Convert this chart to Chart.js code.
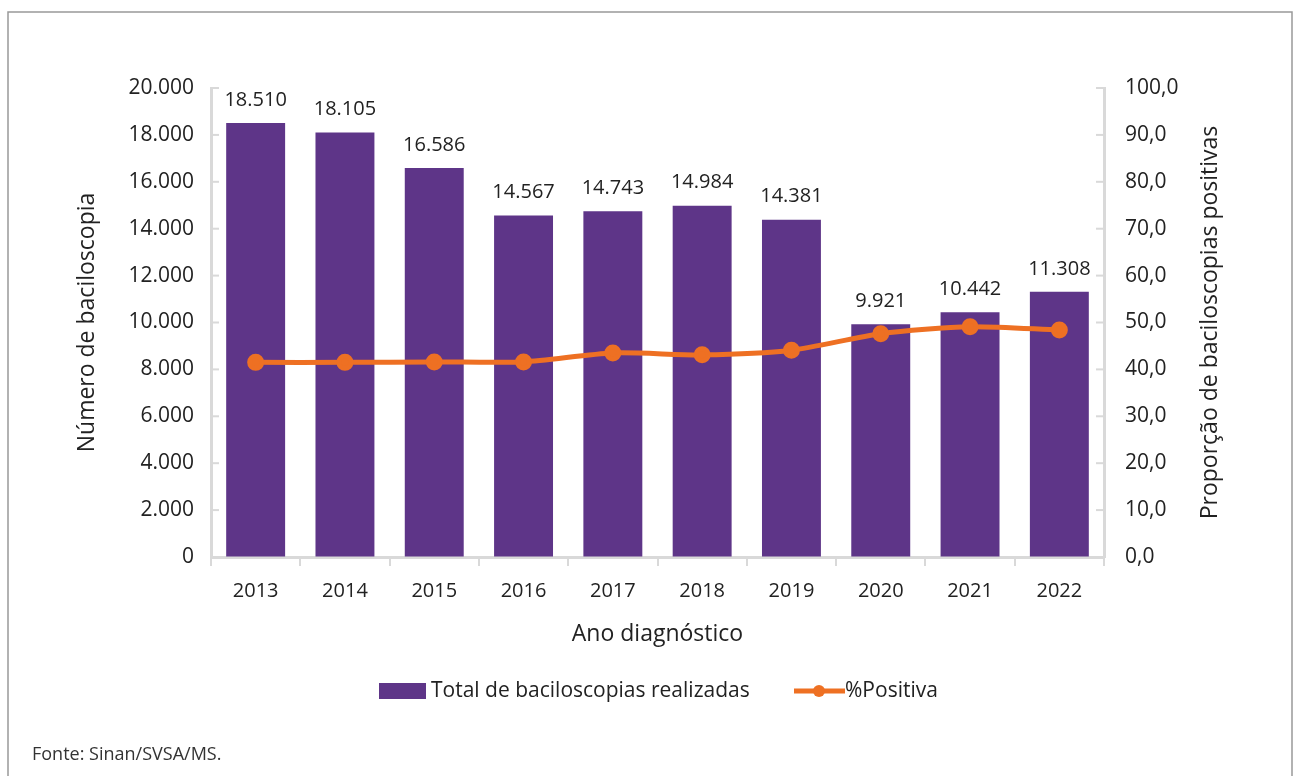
<!DOCTYPE html>
<html>
<head>
<meta charset="utf-8">
<script src="https://cdn.jsdelivr.net/npm/chart.js@4"></script>
<style>
  body { margin: 0; background: #fff; }
  #wrap { width: 1293px; height: 776px; position: relative; }
</style>
</head>
<body>
<div id="wrap"><canvas id="chart"></canvas></div>
<script>
const anos = ['2013', '2014', '2015', '2016', '2017', '2018', '2019', '2020', '2021', '2022'];
const totalBaciloscopias = [18510, 18105, 16586, 14567, 14743, 14984, 14381, 9921, 10442, 11308];
const percPositiva = [41.5, 41.5, 41.6, 41.6, 43.5, 43.1, 44.1, 47.6, 49.1, 48.4];

const roxo = '#5e3588';
const laranja = '#ee7023';
const cinza = '#d9d9d9';
const texto = '#222';
const fonte = "'Open Sans', sans-serif";

function milhar(v) {
    return String(v).replace(/\B(?=(\d{3})+(?!\d))/g, '.');
}

function decimal(v) {
    return Number(v).toFixed(1).replace('.', ',');
}

// numbers above the bars
const rotulosBarras = {
    id: 'rotulosBarras',
    afterDatasetsDraw(chart) {
        const ctx = chart.ctx;
        const meta = chart.getDatasetMeta(1);
        ctx.save();
        ctx.font = '20px ' + fonte;
        ctx.fillStyle = texto;
        ctx.textAlign = 'center';
        ctx.textBaseline = 'middle';
        meta.data.forEach((bar, i) => {
            ctx.fillText(milhar(totalBaciloscopias[i]), bar.x, bar.y - 23);
        });
        ctx.restore();
    }
};

// tick marks on the y axes point inwards
const ticksInternos = {
    id: 'ticksInternos',
    beforeDatasetsDraw(chart) {
        const ctx = chart.ctx;
        ctx.save();
        ctx.strokeStyle = cinza;
        ctx.lineWidth = 2;
        ['y', 'y1'].forEach(id => {
            const s = chart.scales[id];
            const x0 = id === 'y' ? chart.chartArea.left : chart.chartArea.right;
            const dir = id === 'y' ? 1 : -1;
            s.ticks.forEach(t => {
                const py = s.getPixelForValue(t.value);
                ctx.beginPath();
                ctx.moveTo(x0, py);
                ctx.lineTo(x0 + dir * 8, py);
                ctx.stroke();
            });
        });
        ctx.restore();
    }
};

// right axis title, legend, source note and frame
const extras = {
    id: 'extras',
    afterDraw(chart) {
        const ctx = chart.ctx;
        const area = chart.chartArea;
        ctx.save();

        ctx.strokeStyle = '#999';
        ctx.lineWidth = 1.5;
        ctx.strokeRect(8, 12, 1284, 780);

        ctx.save();
        ctx.translate(1210, (area.top + area.bottom) / 2);
        ctx.rotate(-Math.PI / 2);
        ctx.font = '23px ' + fonte;
        ctx.fillStyle = texto;
        ctx.textAlign = 'center';
        ctx.textBaseline = 'middle';
        ctx.fillText('Proporção de baciloscopias positivas', 0, 0);
        ctx.restore();

        const ly = 691;
        ctx.font = '21px ' + fonte;
        ctx.fillStyle = roxo;
        ctx.fillRect(379, ly - 8, 47, 16);
        ctx.fillStyle = texto;
        ctx.textBaseline = 'middle';
        ctx.textAlign = 'left';
        ctx.fillText('Total de baciloscopias realizadas', 431, ly);

        ctx.strokeStyle = laranja;
        ctx.lineWidth = 5;
        ctx.beginPath();
        ctx.moveTo(794, ly);
        ctx.lineTo(845, ly);
        ctx.stroke();
        ctx.fillStyle = laranja;
        ctx.beginPath();
        ctx.arc(819, ly, 6, 0, Math.PI * 2);
        ctx.fill();
        ctx.fillStyle = texto;
        ctx.fillText('%Positiva', 845, ly);

        ctx.font = '18px ' + fonte;
        ctx.fillStyle = '#333';
        ctx.fillText('Fonte: Sinan/SVSA/MS.', 32, 755);
        ctx.restore();
    }
};

Chart.defaults.font.family = fonte;
Chart.defaults.color = texto;

new Chart(document.getElementById('chart'), {
    data: {
        labels: anos,
        datasets: [
            {
                type: 'line',
                label: '%Positiva',
                data: percPositiva,
                yAxisID: 'y1',
                borderColor: laranja,
                backgroundColor: laranja,
                borderWidth: 5,
                pointRadius: 6,
                pointHoverRadius: 6,
                tension: 0.25,
                order: 0
            },
            {
                type: 'bar',
                label: 'Total de baciloscopias realizadas',
                data: totalBaciloscopias,
                yAxisID: 'y',
                backgroundColor: roxo,
                barPercentage: 0.66,
                categoryPercentage: 1,
                order: 1
            }
        ]
    },
    options: {
        responsive: true,
        maintainAspectRatio: false,
        animation: false,
        layout: { padding: { top: 88, left: 70, right: 67, bottom: 124 } },
        plugins: {
            legend: { display: false },
            tooltip: { enabled: false }
        },
        scales: {
            x: {
                offset: true,
                grid: { offset: true, drawOnChartArea: false, color: cinza, lineWidth: 2, tickLength: 9 },
                border: { color: cinza, width: 3 },
                ticks: { font: { size: 20 }, padding: 13, color: texto },
                title: { display: true, text: 'Ano diagnóstico', font: { size: 23 }, color: texto },
                afterFit(s) { s.height = 95; }
            },
            y: {
                position: 'left',
                min: 0,
                max: 20000,
                grid: { drawOnChartArea: false, drawTicks: false },
                border: { color: cinza, width: 3 },
                ticks: { stepSize: 2000, font: { size: 21 }, padding: 17, color: texto, callback: v => milhar(v) },
                title: { display: true, text: 'Número de baciloscopia', font: { size: 23 }, color: texto },
                afterFit(s) { s.width = 141; }
            },
            y1: {
                position: 'right',
                min: 0,
                max: 100,
                grid: { drawOnChartArea: false, drawTicks: false },
                border: { color: cinza, width: 3 },
                ticks: { stepSize: 10, font: { size: 21 }, padding: 21, color: texto, callback: v => decimal(v) },
                afterFit(s) { s.width = 122; }
            }
        }
    },
    plugins: [rotulosBarras, ticksInternos, extras]
});
</script>
</body>
</html>
